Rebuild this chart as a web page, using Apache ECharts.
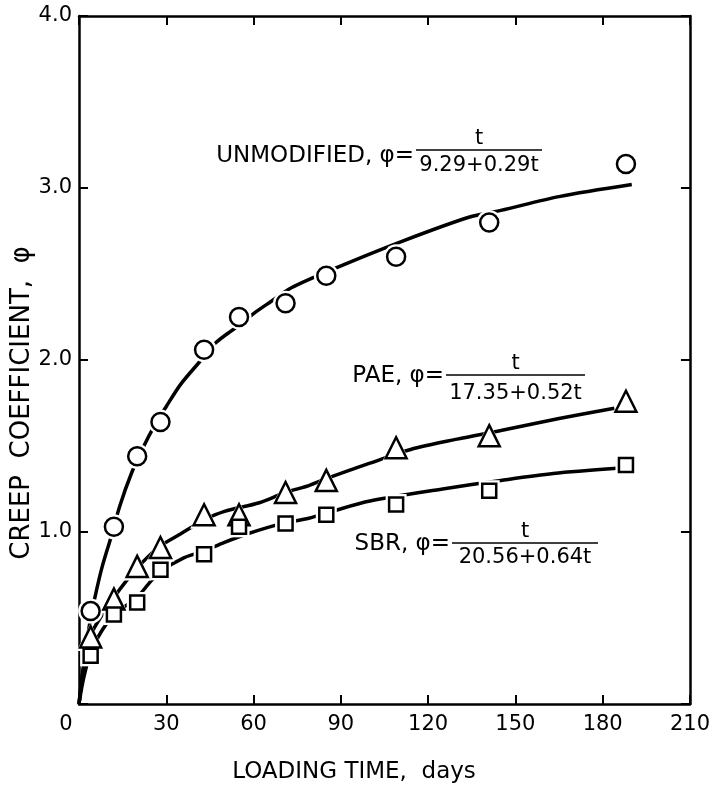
<!DOCTYPE html>
<html><head><meta charset="utf-8">
<script src="https://cdn.jsdelivr.net/npm/echarts@6/dist/echarts.min.js"></script>
<style>html,body{margin:0;padding:0;background:#fff}#c{width:713px;height:786px}</style>
</head><body><div id="c"></div>
<script>
// ---- data ----
const days = [4, 12, 20, 28, 43, 55, 71, 85, 109, 141, 188];
const unmodified = [0.54, 1.03, 1.44, 1.64, 2.06, 2.25, 2.33, 2.49, 2.60, 2.80, 3.14];
const pae = [0.39, 0.61, 0.80, 0.91, 1.10, 1.10, 1.23, 1.30, 1.49, 1.56, 1.76];
const sbr = [0.28, 0.52, 0.59, 0.78, 0.87, 1.03, 1.05, 1.10, 1.16, 1.24, 1.39];

// fitted curves as drawn
const unmodCurveT = [0, 1, 2, 4, 6, 8, 11, 14, 18, 22, 26, 30, 35, 42, 47, 54, 60, 66, 73, 89, 111, 134, 145, 165, 190];
const unmodCurveV = [0, 0.15, 0.28, 0.50, 0.66, 0.80, 0.97, 1.15, 1.34, 1.49, 1.62, 1.73, 1.86, 2.00, 2.10, 2.19, 2.27, 2.34, 2.42, 2.54, 2.69, 2.83, 2.87, 2.95, 3.02];
const paeCurveT = [0, 1, 2, 4, 8, 12, 16, 20, 24, 28, 35, 43, 50, 62, 71, 79, 85, 100, 114, 130, 145, 165, 184];
const paeCurveV = [0, 0.15, 0.25, 0.40, 0.52, 0.62, 0.71, 0.79, 0.86, 0.92, 0.99, 1.07, 1.12, 1.17, 1.23, 1.27, 1.31, 1.40, 1.48, 1.54, 1.59, 1.66, 1.72];
const sbrCurveT = [0, 1, 2, 4, 8, 12, 16, 20, 24, 28, 36, 43, 50, 58, 70, 79, 87, 100, 125, 145, 163, 185];
const sbrCurveV = [0, 0.10, 0.18, 0.30, 0.43, 0.52, 0.57, 0.62, 0.70, 0.77, 0.85, 0.89, 0.94, 0.99, 1.05, 1.08, 1.12, 1.18, 1.25, 1.30, 1.34, 1.37];

const xTickValues = [0, 30, 60, 90, 120, 150, 180, 210];
const yTickValues = [0, 1, 2, 3, 4];
const yTickLabels = ['', '1.0', '2.0', '3.0', '4.0'];

const xAxisTitle = 'LOADING TIME,  days';
const yAxisTitle = 'CREEP  COEFFICIENT,  φ';
const labels = [
  { name: 'UNMODIFIED, φ=', num: 't', den: '9.29+0.29t' },
  { name: 'PAE, φ=', num: 't', den: '17.35+0.52t' },
  { name: 'SBR, φ=', num: 't', den: '20.56+0.64t' }
];

// ---- chart ----
const FONT = '"DejaVu Sans", sans-serif';
const zip = (a, b) => a.map((v, i) => [v, b[i]]);
const chart = echarts.init(document.getElementById('c'), null, { renderer: 'canvas' });

const axisLine = { show: true, onZero: false, lineStyle: { color: '#000', width: 2.5 } };
const tick = { show: true, inside: true, length: 9, lineStyle: { color: '#000', width: 2 } };

function curve(t, v) {
  return { type: 'line', data: zip(t, v), smooth: 0.3, symbol: 'none', z: 2,
    lineStyle: { color: '#000', width: 3.5 }, silent: true, animation: false };
}
function halo(x, y, sym, size) {
  return { type: 'scatter', data: zip(x, y), symbol: sym, symbolSize: size, z: 3,
    itemStyle: { color: '#fff', borderWidth: 0, opacity: 1 }, silent: true, animation: false };
}
function marks(x, y, sym, size) {
  return { type: 'scatter', data: zip(x, y), symbol: sym, symbolSize: size, z: 4,
    itemStyle: { color: '#fff', borderColor: '#000', borderWidth: 2.5, opacity: 1 }, silent: true, animation: false };
}

function fraction(l, x0, x1, yLine, yNum, yDen, textRight, yText, fs) {
  const cx = (x0 + x1) / 2;
  return [
    { type: 'text', x: textRight, y: yText, style: { text: l.name, font: fs + 'px ' + FONT, fill: '#000', align: 'right', verticalAlign: 'middle' } },
    { type: 'line', shape: { x1: x0, y1: yLine, x2: x1, y2: yLine }, style: { stroke: '#000', lineWidth: 1.6 } },
    { type: 'text', x: cx, y: yNum, style: { text: l.num, font: '21px ' + FONT, fill: '#000', align: 'center', verticalAlign: 'middle' } },
    { type: 'text', x: cx, y: yDen, style: { text: l.den, font: '21px ' + FONT, fill: '#000', align: 'center', verticalAlign: 'middle' } }
  ];
}

const option = {
  backgroundColor: '#fff',
  animation: false,
  grid: { left: 79, top: 16, right: 23, bottom: 82, containLabel: false },
  xAxis: [
    { type: 'value', min: 0, max: 210, interval: 30, position: 'bottom',
      axisLine, axisTick: tick, splitLine: { show: false },
      axisLabel: { color: '#000', fontSize: 21, fontFamily: FONT, margin: 10, showMinLabel: true, showMaxLabel: true,
        formatter: v => v === 0 ? '{z|0}' : String(v),
        rich: { z: { fontSize: 21, fontFamily: FONT, color: '#000', padding: [0, 26, 0, 0] } } } },
    { type: 'value', min: 0, max: 210, interval: 30, position: 'top',
      axisLine, axisTick: tick, splitLine: { show: false }, axisLabel: { show: false } }
  ],
  yAxis: [
    { type: 'value', min: 0, max: 4, interval: 1, position: 'left',
      axisLine, axisTick: tick, splitLine: { show: false },
      axisLabel: { color: '#000', fontSize: 21, fontFamily: FONT, margin: 7,
        formatter: v => yTickLabels[yTickValues.indexOf(v)] } },
    { type: 'value', min: 0, max: 4, interval: 1, position: 'right',
      axisLine, axisTick: tick, splitLine: { show: false }, axisLabel: { show: false } }
  ],
  series: [
    curve(unmodCurveT, unmodCurveV),
    curve(paeCurveT, paeCurveV),
    curve(sbrCurveT, sbrCurveV),
    halo(days, unmodified, 'circle', 25),
    halo(days, pae, 'triangle', 28),
    halo(days, sbr, 'rect', 21),
    marks(days, unmodified, 'circle', 18),
    marks(days, pae, 'triangle', 21),
    marks(days, sbr, 'rect', 14)
  ],
  graphic: [
    { type: 'text', x: 354, y: 772, style: { text: xAxisTitle, font: '23px ' + FONT, fill: '#000', align: 'center', verticalAlign: 'middle' } },
    { type: 'text', x: 22, y: 403, rotation: Math.PI / 2, style: { text: yAxisTitle, font: '26px ' + FONT, fill: '#000', align: 'center', verticalAlign: 'middle' } },
    ...fraction(labels[0], 416, 542, 150, 139, 166, 414, 156, 23),
    ...fraction(labels[1], 446, 585, 375, 364, 394, 444, 376, 23),
    ...fraction(labels[2], 452, 598, 543, 532, 558, 450, 544, 23)
  ]
};
chart.setOption(option);
</script>
</body></html>
